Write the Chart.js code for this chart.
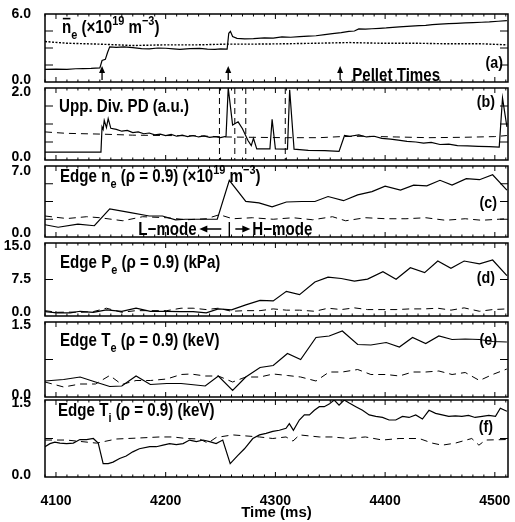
<!DOCTYPE html>
<html>
<head>
<meta charset="utf-8">
<script src="https://cdn.jsdelivr.net/npm/chart.js@4.4.0/dist/chart.umd.min.js"></script>
<style>
  html, body { margin: 0; padding: 0; background: #fff; }
  #wrap { position: relative; width: 515px; height: 522px; overflow: hidden; }
  #wrap canvas { position: absolute; left: 0; }
</style>
</head>
<body>
<div id="wrap"></div>
<script>
// ---- data (time in ms) ----
const timeTicks = [4100, 4200, 4300, 4400, 4500];
const pelletTimes = [4142, 4257, 4359];
const elmTimes = [4249, 4263, 4273, 4309];
const lhTime = 4258;

// (a) line-averaged density
const tNe = [4090, 4100, 4110, 4118, 4125, 4132, 4140, 4142, 4145, 4147, 4149, 4155, 4162, 4170, 4178, 4185, 4193, 4200, 4207, 4213, 4222, 4231, 4238, 4245, 4250, 4256, 4257.5, 4259, 4261, 4265, 4272, 4280, 4290, 4298, 4306, 4314, 4322, 4330, 4337, 4345, 4352, 4360, 4367, 4372, 4376, 4382, 4388, 4395, 4401, 4407, 4413, 4420, 4431, 4437, 4443, 4450, 4458, 4465, 4473, 4480, 4488, 4495, 4503, 4511];
const ne = [1.11, 1.14, 1.12, 1.17, 1.18, 1.2, 1.24, 1.9, 2.0, 2.6, 3.1, 3.05, 3.1, 3.03, 2.95, 2.92, 3.0, 2.98, 2.93, 2.88, 2.95, 2.97, 2.9, 2.88, 2.92, 2.9, 4.3, 4.47, 4.02, 3.85, 3.8, 3.83, 3.9, 3.88, 3.98, 3.95, 4.0, 4.05, 4.08, 4.18, 4.26, 4.35, 4.46, 4.5, 4.68, 4.66, 4.7, 4.74, 4.77, 4.82, 4.86, 4.9, 4.97, 5.0, 5.06, 5.1, 5.15, 5.18, 5.21, 5.24, 5.27, 5.3, 5.36, 5.42];
const tNeRef = [4090, 4110, 4140, 4170, 4200, 4230, 4255, 4277, 4307, 4337, 4367, 4397, 4428, 4458, 4488, 4511];
const neRef = [3.57, 3.42, 3.34, 3.22, 3.28, 3.28, 3.34, 3.34, 3.37, 3.42, 3.48, 3.42, 3.42, 3.37, 3.37, 3.28];

// (b) upper divertor photodiode
const tPd = [4090, 4141, 4142, 4143, 4144, 4146, 4147.6, 4150, 4155, 4160, 4165, 4170, 4175, 4180, 4185, 4190, 4195, 4200, 4205, 4210, 4215, 4220, 4225, 4230, 4235, 4240, 4245, 4250, 4255, 4257, 4261, 4266, 4270, 4275, 4278, 4280, 4283, 4295, 4297, 4300, 4311, 4313, 4317, 4330, 4345, 4358, 4363, 4368, 4376, 4383, 4390, 4397, 4405, 4412, 4420, 4428, 4435, 4442, 4450, 4458, 4466, 4475, 4485, 4495, 4504, 4507, 4511];
const pd = [0.22, 0.22, 0.92, 0.85, 1.1, 0.9, 1.15, 0.88, 0.85, 0.8, 0.82, 0.76, 0.78, 0.73, 0.75, 0.7, 0.72, 0.68, 0.71, 0.66, 0.69, 0.65, 0.68, 0.64, 0.67, 0.63, 0.65, 0.62, 0.66, 2.0, 0.97, 1.06, 0.87, 0.54, 0.4, 0.6, 0.31, 0.31, 1.13, 0.31, 0.3, 1.95, 0.3, 0.27, 0.26, 0.24, 0.68, 0.66, 0.7, 0.64, 0.66, 0.6, 0.58, 0.55, 0.52, 0.5, 0.47, 0.49, 0.43, 0.44, 0.4, 0.39, 0.38, 0.37, 0.36, 1.72, 0.92];
const tPdRef = [4090, 4110, 4140, 4170, 4200, 4230, 4255, 4280, 4310, 4340, 4360, 4380, 4410, 4440, 4470, 4500, 4511];
const pdRef = [0.78, 0.74, 0.72, 0.69, 0.68, 0.67, 0.64, 0.63, 0.62, 0.62, 0.65, 0.66, 0.64, 0.62, 0.63, 0.65, 0.68];

// (c) edge density
const tNeEdge = [4090, 4102, 4120, 4135, 4149, 4168, 4185, 4197, 4209, 4218, 4230, 4247, 4258, 4273, 4285, 4297, 4310, 4324, 4336, 4348, 4362, 4375, 4388, 4400, 4414, 4426, 4438, 4450, 4461, 4474, 4486, 4498, 4511];
const neEdge = [1.21, 0.96, 1.27, 1.11, 2.78, 2.4, 2.07, 2.07, 1.69, 1.75, 1.75, 1.75, 5.59, 3.51, 3.36, 2.97, 3.45, 3.5, 3.5, 3.99, 3.58, 4.15, 4.47, 5.01, 4.63, 5.11, 5.05, 5.59, 5.11, 5.75, 5.65, 6.14, 4.63];
const tNeEdgeRef = [4090, 4110, 4128, 4140, 4161, 4179, 4201, 4219, 4237, 4249, 4261, 4279, 4298, 4316, 4334, 4352, 4364, 4382, 4401, 4419, 4437, 4455, 4473, 4488, 4511];
const neEdgeRef = [2.07, 1.82, 2.0, 1.9, 1.6, 2.0, 1.9, 1.7, 1.8, 2.2, 1.8, 1.9, 1.75, 1.9, 1.7, 2.0, 1.6, 1.9, 1.8, 1.8, 1.9, 1.65, 1.8, 1.65, 1.8];

// (d) edge pressure
const tPe = [4090, 4101, 4113, 4122, 4134, 4146, 4160, 4173, 4186, 4201, 4214, 4225, 4237, 4248, 4260, 4273, 4286, 4298, 4310, 4322, 4336, 4348, 4360, 4372, 4384, 4398, 4410, 4423, 4436, 4448, 4460, 4472, 4486, 4498, 4511];
const pe = [0.9, 0.63, 0.63, 0.97, 0.76, 1.25, 0.97, 1.6, 0.97, 0.97, 0.9, 0.9, 0.63, 1.46, 1.25, 2.29, 3.19, 3.1, 5.07, 4.38, 7.0, 7.99, 7.7, 7.15, 7.57, 9.1, 7.57, 9.93, 8.9, 11.3, 9.79, 11.3, 10.7, 11.5, 8.3];
const peRef = [1.1, 0.76, 0.8, 0.76, 0.9, 1.6, 0.76, 1.1, 1.1, 1.1, 1.6, 1.6, 1.32, 1.6, 0.97, 1.1, 1.1, 1.46, 1.2, 1.2, 0.97, 1.6, 1.32, 1.67, 1.32, 1.32, 1.32, 1.46, 1.46, 1.6, 1.2, 1.67, 0.97, 1.32, 1.46];

// (e) edge electron temperature
const tTe = [4090, 4107, 4122, 4136, 4149, 4160, 4173, 4186, 4201, 4214, 4223, 4236, 4248, 4261, 4273, 4286, 4298, 4311, 4323, 4337, 4349, 4361, 4375, 4387, 4401, 4413, 4425, 4437, 4449, 4461, 4473, 4486, 4498, 4511];
const te = [0.32, 0.35, 0.4, 0.3, 0.21, 0.22, 0.42, 0.25, 0.27, 0.27, 0.25, 0.22, 0.42, 0.13, 0.4, 0.59, 0.63, 0.87, 0.75, 1.19, 1.22, 1.32, 1.05, 1.04, 1.09, 1.0, 1.19, 1.07, 1.22, 1.15, 1.16, 1.15, 1.11, 1.1];
const teRef = [0.3, 0.2, 0.26, 0.26, 0.43, 0.25, 0.33, 0.33, 0.36, 0.45, 0.46, 0.42, 0.42, 0.3, 0.4, 0.4, 0.46, 0.43, 0.4, 0.32, 0.5, 0.5, 0.55, 0.45, 0.45, 0.42, 0.5, 0.5, 0.52, 0.45, 0.49, 0.33, 0.45, 0.56];

// (f) edge ion temperature
const tTi = [4090, 4094.5, 4099, 4103.6, 4109.7, 4115.8, 4121.8, 4127.9, 4134, 4138.5, 4143, 4147.6, 4152, 4158, 4164, 4170, 4176, 4185.5, 4191.5, 4197.6, 4203.6, 4209.7, 4215.8, 4221.8, 4228, 4234, 4240, 4246, 4252, 4258.8, 4265.8, 4271.8, 4279.4, 4285.5, 4291.5, 4297.6, 4303.6, 4309.7, 4312.7, 4316.4, 4321.8, 4326.4, 4331, 4335.5, 4340, 4344.5, 4349, 4353.6, 4358, 4362.7, 4367.3, 4373.3, 4379.4, 4385.5, 4391.5, 4397.6, 4403.6, 4409.7, 4415.8, 4421.8, 4427.9, 4434, 4440, 4446, 4452, 4458, 4464, 4470, 4476, 4482, 4488.5, 4494.5, 4500.6, 4505, 4511];
const ti = [0.59, 0.65, 0.68, 0.66, 0.65, 0.66, 0.73, 0.73, 0.75, 0.66, 0.26, 0.26, 0.29, 0.36, 0.41, 0.49, 0.55, 0.59, 0.59, 0.62, 0.65, 0.63, 0.65, 0.72, 0.69, 0.72, 0.69, 0.65, 0.72, 0.26, 0.42, 0.55, 0.75, 0.82, 0.85, 0.89, 0.91, 0.95, 1.04, 0.91, 1.11, 1.21, 1.21, 1.3, 1.37, 1.37, 1.42, 1.5, 1.4, 1.5, 1.44, 1.37, 1.3, 1.21, 1.18, 1.16, 1.11, 1.11, 1.18, 1.16, 1.21, 1.13, 1.3, 1.24, 1.21, 1.18, 1.19, 1.18, 1.2, 1.16, 1.18, 1.2, 1.18, 1.34, 1.28];
const tTiRef = [4090, 4109.7, 4137, 4155, 4176, 4194.5, 4206.7, 4218.8, 4231, 4238.5, 4246, 4261, 4285.5, 4297.6, 4309.7, 4316, 4322, 4340, 4352, 4367, 4382, 4397.6, 4412.7, 4431, 4443, 4452, 4464, 4479, 4485.5, 4491.5, 4511];
const tiRef = [0.72, 0.72, 0.66, 0.74, 0.76, 0.78, 0.78, 0.75, 0.74, 0.66, 0.77, 0.82, 0.78, 0.75, 0.78, 0.7, 0.82, 0.78, 0.78, 0.75, 0.78, 0.72, 0.75, 0.75, 0.66, 0.62, 0.66, 0.75, 0.62, 0.72, 0.73];

// ---- layout ----
const FONT = '"Liberation Sans", Arial, Helvetica, sans-serif';
const X_MIN = 4090, X_MAX = 4512;

function pts(xs, ys) {
    return xs.map((x, i) => ({ x: x, y: ys[i] }));
}

// bold, slightly condensed text with sub/superscripts
function richText(ctx, x, y, parts, size) {
    ctx.save();
    ctx.translate(x, y);
    ctx.scale(0.84, 1);
    ctx.fillStyle = '#000';
    ctx.strokeStyle = '#000';
    ctx.textAlign = 'left';
    ctx.textBaseline = 'alphabetic';
    let cx = 0;
    parts.forEach(p => {
        const small = p.sub || p.sup;
        const fs = small ? Math.round(size * 0.72) : size;
        ctx.font = 'bold ' + fs + 'px ' + FONT;
        const dy = p.sub ? size * 0.32 : (p.sup ? -size * 0.42 : 0);
        ctx.fillText(p.t, cx, dy);
        const w = ctx.measureText(p.t).width;
        if (p.bar) {
            ctx.lineWidth = 1.6;
            ctx.beginPath();
            ctx.moveTo(cx + 1, -size * 0.8);
            ctx.lineTo(cx + w - 1, -size * 0.8);
            ctx.stroke();
        }
        cx += w;
    });
    ctx.restore();
}

function solid(data) {
    return { data: data, borderColor: '#000', borderWidth: 1.2, pointRadius: 0, fill: false, tension: 0 };
}
function dashed(data, dash, width) {
    return { data: data, borderColor: '#000', borderWidth: width || 1, borderDash: dash || [7, 5], pointRadius: 0, fill: false, tension: 0 };
}

function noPad(s) {
    s.paddingTop = 0;
    s.paddingBottom = 0;
    s.paddingLeft = 0;
    s.paddingRight = 0;
}

// shift: how far (px) the top / bottom tick labels sit inside the frame
const panels = [
    {
        top: 14, bottom: 82, max: 6, labels: [0, 6], marks: [1.5, 3, 4.5], shift: [0, 1.5],
        datasets: [dashed(pts(tNeRef, neRef), [2, 1.5], 1.4), solid(pts(tNe, ne))],
        title: [{ t: 'n', bar: true }, { t: 'e', sub: true }, { t: ' (×10' }, { t: '19', sup: true }, { t: ' m' }, { t: '−3', sup: true }, { t: ')' }],
        titleX: 62, titleY: 19, tag: '(a)', tagX: 503, tagY: 49,
        extra: function (chart) {
            const ctx = chart.ctx, a = chart.chartArea, x = chart.scales.x;
            ctx.save();
            ctx.strokeStyle = '#000';
            ctx.fillStyle = '#000';
            ctx.lineWidth = 1.3;
            pelletTimes.forEach(t => {
                const px = x.getPixelForValue(t);
                ctx.beginPath();
                ctx.moveTo(px, a.bottom - 2);
                ctx.lineTo(px, a.top + 55);
                ctx.stroke();
                ctx.beginPath();
                ctx.moveTo(px - 3, a.top + 59);
                ctx.lineTo(px, a.top + 52);
                ctx.lineTo(px + 3, a.top + 59);
                ctx.closePath();
                ctx.fill();
            });
            ctx.restore();
            richText(ctx, x.getPixelForValue(pelletTimes[2]) + 12, a.bottom - 1, [{ t: 'Pellet Times' }], 18);
        }
    },
    {
        top: 88, bottom: 160, max: 2, labels: [0, 2], marks: [0.5, 1, 1.5], shift: [4.5, 3],
        datasets: [dashed(pts(tPdRef, pdRef)), solid(pts(tPd, pd))],
        title: [{ t: 'Upp. Div. PD (a.u.)' }],
        titleX: 59, titleY: 24, tag: '(b)', tagX: 495, tagY: 14,
        extra: function (chart) {
            const ctx = chart.ctx, a = chart.chartArea, x = chart.scales.x;
            ctx.save();
            ctx.strokeStyle = '#000';
            ctx.lineWidth = 1;
            ctx.setLineDash([6, 4]);
            elmTimes.forEach(t => {
                const px = x.getPixelForValue(t);
                ctx.beginPath();
                ctx.moveTo(px, a.top);
                ctx.lineTo(px, a.bottom);
                ctx.stroke();
            });
            ctx.restore();
        }
    },
    {
        top: 166, bottom: 237, max: 7, labels: [0, 7], marks: [1.75, 3.5, 5.25], shift: [5, 3.5],
        datasets: [dashed(pts(tNeEdgeRef, neEdgeRef)), solid(pts(tNeEdge, neEdge))],
        title: [{ t: 'Edge n' }, { t: 'e', sub: true }, { t: ' (ρ = 0.9) (×10' }, { t: '19', sup: true }, { t: ' m' }, { t: '−3', sup: true }, { t: ')' }],
        titleX: 60, titleY: 16, tag: '(c)', tagX: 497, tagY: 37,
        extra: function (chart) {
            const ctx = chart.ctx, a = chart.chartArea, x = chart.scales.x;
            const px = x.getPixelForValue(lhTime);
            const ay = a.bottom - 8;
            ctx.save();
            ctx.strokeStyle = '#000';
            ctx.fillStyle = '#000';
            ctx.lineWidth = 1.4;
            ctx.beginPath();
            ctx.moveTo(px, a.bottom - 15);
            ctx.lineTo(px, a.bottom);
            ctx.moveTo(px - 8, ay);
            ctx.lineTo(px - 24, ay);
            ctx.moveTo(px + 6, ay);
            ctx.lineTo(px + 18, ay);
            ctx.stroke();
            ctx.beginPath();
            ctx.moveTo(px - 30, ay);
            ctx.lineTo(px - 22, ay - 3.5);
            ctx.lineTo(px - 22, ay + 3.5);
            ctx.closePath();
            ctx.moveTo(px + 21, ay);
            ctx.lineTo(px + 13, ay - 3.5);
            ctx.lineTo(px + 13, ay + 3.5);
            ctx.closePath();
            ctx.fill();
            ctx.restore();
            richText(ctx, px - 91, a.bottom - 2, [{ t: 'L−mode' }], 18);
            richText(ctx, px + 23, a.bottom - 2, [{ t: 'H−mode' }], 18);
        }
    },
    {
        top: 243, bottom: 316, max: 15, labels: [0, 7.5, 15], marks: [7.5], shift: [3.5, 4],
        datasets: [dashed(pts(tPe, peRef)), solid(pts(tPe, pe))],
        title: [{ t: 'Edge P' }, { t: 'e', sub: true }, { t: ' (ρ = 0.9) (kPa)' }],
        titleX: 60, titleY: 25, tag: '(d)', tagX: 495, tagY: 35
    },
    {
        top: 322, bottom: 397, max: 1.5, labels: [0, 1.5], marks: [0.75], shift: [3, 2],
        datasets: [dashed(pts(tTe, teRef)), solid(pts(tTe, te))],
        title: [{ t: 'Edge T' }, { t: 'e', sub: true }, { t: ' (ρ = 0.9) (keV)' }],
        titleX: 60, titleY: 24, tag: '(e)', tagX: 497, tagY: 18
    },
    {
        top: 400, bottom: 477, max: 1.5, labels: [0, 1.5], marks: [0.75], shift: [3, 2],
        datasets: [dashed(pts(tTiRef, tiRef)), solid(pts(tTi, ti))],
        title: [{ t: 'Edge T' }, { t: 'i', sub: true }, { t: ' (ρ = 0.9) (keV)' }],
        titleX: 58, titleY: 16, tag: '(f)', tagX: 493, tagY: 27
    }
];

const wrap = document.getElementById('wrap');
const PAD = 10;

panels.forEach((p, i) => {
    const last = i === panels.length - 1;
    const canvas = document.createElement('canvas');
    const top = p.top - PAD;
    const height = last ? 522 - top : (p.bottom - p.top) + 2 * PAD;
    canvas.width = 515;
    canvas.height = height;
    canvas.style.top = top + 'px';
    canvas.style.width = '515px';
    canvas.style.height = height + 'px';
    wrap.appendChild(canvas);

    const perPx = p.max / (p.bottom - p.top);

    const framePlugin = {
        id: 'frame' + i,
        afterDatasetsDraw(chart) {
            const ctx = chart.ctx, a = chart.chartArea;
            const x = chart.scales.x, y = chart.scales.y;
            ctx.save();
            ctx.strokeStyle = '#000';
            ctx.lineWidth = 1.5;
            ctx.strokeRect(a.left, a.top, a.right - a.left, a.bottom - a.top);
            ctx.lineWidth = 1;
            ctx.beginPath();
            for (let t = X_MIN; t <= X_MAX; t += 10) {
                const px = x.getPixelForValue(t);
                const len = t % 100 === 0 ? 5 : 2.5;
                ctx.moveTo(px, a.top);
                ctx.lineTo(px, a.top + len);
                ctx.moveTo(px, a.bottom);
                ctx.lineTo(px, a.bottom - len);
            }
            p.marks.forEach(v => {
                const py = y.getPixelForValue(v);
                ctx.moveTo(a.left, py);
                ctx.lineTo(a.left + 8, py);
                ctx.moveTo(a.right, py);
                ctx.lineTo(a.right - 8, py);
            });
            ctx.stroke();
            ctx.restore();

            if (p.extra) p.extra(chart);
            richText(ctx, p.titleX, a.top + p.titleY, p.title, 18);

            ctx.save();
            ctx.font = 'bold 17px ' + FONT;
            ctx.fillStyle = '#000';
            ctx.textAlign = 'right';
            ctx.textBaseline = 'middle';
            ctx.translate(p.tagX, a.top + p.tagY);
            ctx.scale(0.84, 1);
            ctx.fillText(p.tag, 0, 0);
            ctx.restore();
        }
    };

    new Chart(canvas, {
        type: 'line',
        data: { datasets: p.datasets },
        options: {
            responsive: false,
            animation: false,
            parsing: false,
            normalized: true,
            layout: { padding: { top: PAD, bottom: last ? 0 : PAD, left: 0, right: 7 } },
            plugins: { legend: { display: false }, tooltip: { enabled: false } },
            scales: {
                x: {
                    type: 'linear',
                    min: X_MIN,
                    max: X_MAX,
                    display: last,
                    afterBuildTicks: s => { s.ticks = timeTicks.map(v => ({ value: v })); },
                    afterFit: s => { noPad(s); if (last) s.height = 45; },
                    grid: { display: false },
                    border: { display: false },
                    ticks: {
                        color: '#000',
                        padding: 8,
                        maxRotation: 0,
                        autoSkip: false,
                        font: { family: FONT, size: 14, weight: 'bold' },
                        callback: v => String(v)
                    },
                    title: {
                        display: true,
                        text: 'Time (ms)',
                        color: '#000',
                        padding: { top: 2, bottom: 0 },
                        font: { family: FONT, size: 15, weight: 'bold' }
                    }
                },
                y: {
                    type: 'linear',
                    min: 0,
                    max: p.max,
                    afterBuildTicks: s => {
                        s.ticks = p.labels.map(v => {
                            let pos = v;
                            if (v === 0) pos = v + p.shift[1] * perPx;
                            else if (v === p.max) pos = v - p.shift[0] * perPx;
                            return { value: pos };
                        });
                    },
                    afterFit: s => { noPad(s); s.width = 45; },
                    grid: { display: false },
                    border: { display: false },
                    ticks: {
                        color: '#000',
                        padding: 6,
                        font: { family: FONT, size: 14, weight: 'bold' },
                        callback: (v, idx) => p.labels[idx].toFixed(1)
                    }
                }
            }
        },
        plugins: [framePlugin]
    });
});
</script>
</body>
</html>
